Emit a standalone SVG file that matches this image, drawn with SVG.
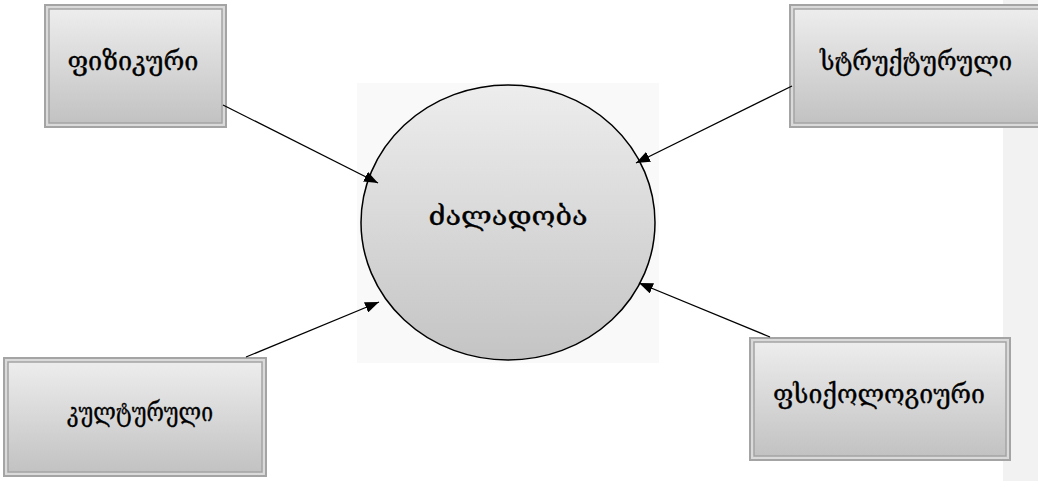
<svg xmlns="http://www.w3.org/2000/svg" width="1038" height="481" viewBox="0 0 1038 481">
<style>
.outer{fill:#dadada;stroke:#a4a4a4;stroke-width:2}
.inner{fill:url(#g);stroke:#a4a4a4;stroke-width:1.5}
.lbl{font-family:"DejaVu Serif","Noto Sans",serif;font-size:26px;fill:#000;stroke:#000;stroke-width:0.35;text-anchor:middle}
.conn{stroke:#000;stroke-width:1.3;fill:none}
</style>
<defs>
<linearGradient id="g" x1="0" y1="0" x2="0" y2="1">
<stop offset="0" stop-color="#ededed"/>
<stop offset="1" stop-color="#c2c2c2"/>
</linearGradient>
<linearGradient id="gc" x1="0" y1="0" x2="0" y2="1">
<stop offset="0" stop-color="#ededed"/>
<stop offset="1" stop-color="#c4c4c4"/>
</linearGradient>
<marker id="ah" viewBox="0 0 14 11" refX="14" refY="5.5" markerWidth="14" markerHeight="11" markerUnits="userSpaceOnUse" orient="auto">
<path d="M0,0 L14,5.5 L0,11 Z" fill="#000"/>
</marker>
</defs>
<rect x="1003" y="0" width="35" height="481" fill="#f2f2f2"/>
<rect x="357" y="83" width="302" height="280" fill="#f9f9f9"/>
<g id="node-center">
<ellipse cx="508" cy="222.5" rx="147" ry="137.5" fill="url(#gc)" stroke="#000" stroke-width="1.5"/>
<text class="lbl" x="508" y="225" textLength="159" lengthAdjust="spacingAndGlyphs">ძალადობა</text>
</g>
<g id="node-physical">
<rect class="outer" x="45" y="5" width="181" height="122"/>
<rect class="inner" x="49" y="9" width="173" height="114"/>
<text class="lbl" x="133" y="70" textLength="131" lengthAdjust="spacingAndGlyphs">ფიზიკური</text>
</g>
<g id="node-structural">
<rect class="outer" x="790" y="5" width="252" height="122"/>
<rect class="inner" x="794" y="9" width="248" height="114"/>
<text class="lbl" x="916" y="70" textLength="192" lengthAdjust="spacingAndGlyphs">სტრუქტურული</text>
</g>
<g id="node-cultural">
<rect class="outer" x="4" y="358" width="262" height="118"/>
<rect class="inner" x="8" y="362" width="254" height="110"/>
<text class="lbl" x="140" y="421" textLength="146" lengthAdjust="spacingAndGlyphs">კულტურული</text>
</g>
<g id="node-psychological">
<rect class="outer" x="750" y="338" width="260" height="122"/>
<rect class="inner" x="754" y="342" width="252" height="114"/>
<text class="lbl" x="879" y="403" textLength="212" lengthAdjust="spacingAndGlyphs">ფსიქოლოგიური</text>
</g>
<g id="connectors">
<line class="conn" x1="223" y1="105" x2="378" y2="183" marker-end="url(#ah)"/>
<line class="conn" x1="792" y1="86" x2="636" y2="163" marker-end="url(#ah)"/>
<line class="conn" x1="246" y1="357" x2="379" y2="302" marker-end="url(#ah)"/>
<line class="conn" x1="770" y1="337" x2="639" y2="283" marker-end="url(#ah)"/>
</g>
</svg>
